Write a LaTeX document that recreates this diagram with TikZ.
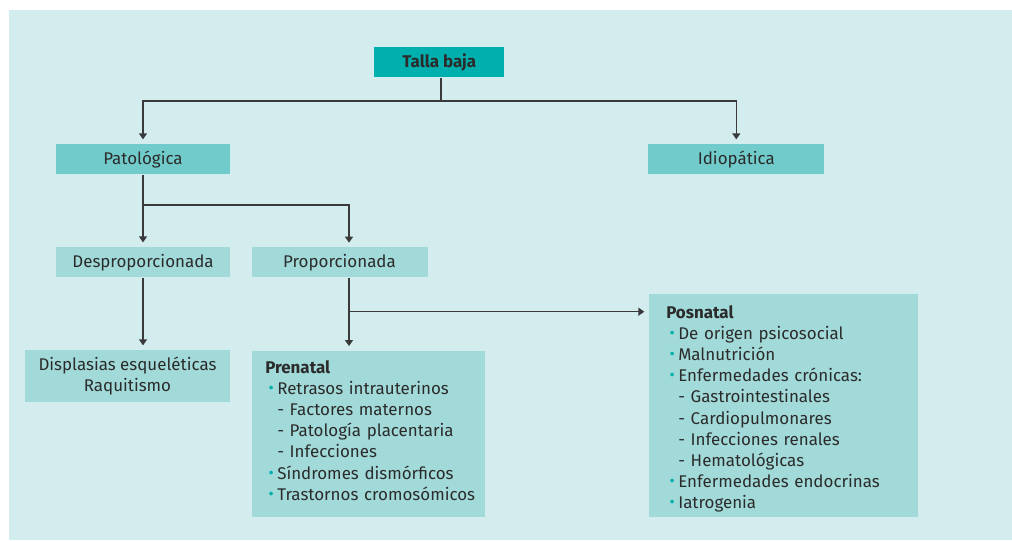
\documentclass[tikz,border=0pt]{standalone}
\usepackage{fontspec}
\setmainfont{Fira Sans}
\usetikzlibrary{arrows.meta}
\definecolor{bgc}{HTML}{D3EDEE}
\definecolor{topc}{HTML}{00B0AE}
\definecolor{midc}{HTML}{72CBCB}
\definecolor{lowc}{HTML}{A2DAD9}
\definecolor{txtc}{HTML}{2B2B2B}
\definecolor{linec}{HTML}{3A3A3A}
\newcommand{\bul}{\makebox[9pt][c]{\color{topc}\raisebox{0.1ex}{\fontsize{12}{12}\selectfont\textbullet}}}
\newcommand{\subi}{\hspace*{9pt}- }
\begin{document}
\begin{tikzpicture}[x=0.75pt,y=-0.75pt,
  box/.style={draw=none, inner sep=0pt, align=center, text=txtc,
    font=\fontsize{12.7}{15.85}\selectfont},
  topbox/.style={box, fill=topc, font=\fontsize{12.7}{15.85}\selectfont\bfseries},
  midbox/.style={box, fill=midc},
  lowbox/.style={box, fill=lowc},
  listbox/.style={lowbox, align=left, anchor=north west, inner xsep=0pt},
  arr/.style={draw=linec, line width=1pt, -{Triangle[length=4.5pt,width=6pt]}, shorten >=3.5pt},
  ln/.style={draw=linec, line width=1pt}
]
\path[use as bounding box, fill=white] (0,0) rectangle (1012,540);
\fill[bgc] (9,10) rectangle (1012,540);

\node[topbox, minimum width=97.5pt, minimum height=22.5pt] (talla) at (439.3,62.3) {Talla baja};
\node[midbox, minimum width=130.5pt, minimum height=22.5pt] (pato) at (143,159.3) {Patológica};
\node[midbox, minimum width=132pt, minimum height=22.5pt] (idio) at (736.3,159.3) {Idiopática};
\node[lowbox, minimum width=130.5pt, minimum height=22.5pt] (despro) at (143,262.3) {Desproporcionada};
\node[lowbox, minimum width=132pt, minimum height=22.5pt] (propor) at (339.5,262.3) {Proporcionada};
\node[lowbox, minimum width=153.75pt, minimum height=39pt] (displ) at (127.5,376.3) {Displasias esqueléticas\\Raquitismo};

\newcommand{\ia}{\hspace*{9.75pt}}
\node[listbox, minimum height=124.5pt, text width=174.75pt] (pren) at (252,350.7) {%
\ia\textbf{Prenatal}\\
\ia\bul Retrasos intrauterinos\\
\ia\subi Factores maternos\\
\ia\subi Patología placentaria\\
\ia\subi Infecciones\\
\ia\bul Síndromes dismórficos\\
\ia\bul Trastornos cromosómicos\\[-10.5pt]\mbox{}};

\newcommand{\ib}{\hspace*{12.75pt}}
\node[listbox, minimum height=167.25pt, text width=201.75pt] (posn) at (649,294) {%
\mbox{}\\[-1.5pt]
\ib\textbf{Posnatal}\\
\ib\bul De origen psicosocial\\
\ib\bul Malnutrición\\
\ib\bul Enfermedades crónicas:\\
\ib\subi Gastrointestinales\\
\ib\subi Cardiopulmonares\\
\ib\subi Infecciones renales\\
\ib\subi Hematológicas\\
\ib\bul Enfermedades endocrinas\\
\ib\bul Iatrogenia};

\coordinate (j1) at (441,101);
\coordinate (j2) at (143,205);
\coordinate (pin) at (349,247.3);
\coordinate (j3) at (349,311.7);

\draw[ln] (talla.south -| j1) -- (j1);
\draw[arr] (j1) -| (pato.north);
\draw[arr] (j1) -| (idio.north);
\draw[ln] (pato.south) -- (j2);
\draw[arr] (j2) -- (despro.north);
\draw[arr] (j2) -| (pin);
\draw[arr] (despro.south) -- (despro.south |- displ.north);
\draw[arr] (pin |- propor.south) -- (pin |- pren.north);
\draw[arr] (j3) -- (j3 -| posn.west);
\end{tikzpicture}
\end{document}
